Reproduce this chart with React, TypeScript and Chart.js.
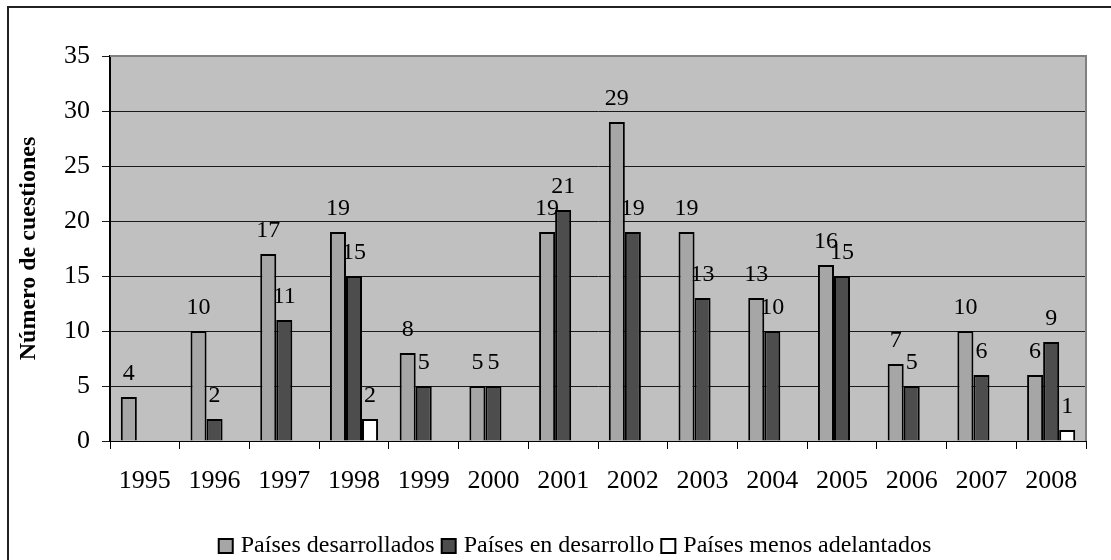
import React, { useEffect, useRef } from "react";
import { Chart, registerables } from "chart.js";

Chart.register(...registerables);

const years = ["1995", "1996", "1997", "1998", "1999", "2000", "2001", "2002", "2003", "2004", "2005", "2006", "2007", "2008"];
const desarrollados = [4, 10, 17, 19, 8, 5, 19, 29, 19, 13, 16, 7, 10, 6];
const enDesarrollo = [null, 2, 11, 15, 5, 5, 21, 19, 13, 10, 15, 5, 6, 9];
const menosAdelantados = [null, null, null, 2, null, null, null, null, null, null, null, null, null, 1];
const seriesLabels = ["Países desarrollados", "Países en desarrollo", "Países menos adelantados"];
const seriesColors = ["#A6A6A6", "#4D4D4D", "#FFFFFF"];
const yTitle = "Número de cuestiones";

const FONT = "'Liberation Serif', 'Times New Roman', serif";

const plotBg = {
  id: "plotBg",
  beforeDraw(chart: any) {
    const { ctx, chartArea: a } = chart;
    ctx.save();
    ctx.fillStyle = "#C0C0C0";
    ctx.fillRect(a.left, a.top, a.right - a.left, a.bottom - a.top);
    ctx.restore();
  },
  beforeDatasetsDraw(chart: any) {
    const { ctx, chartArea: a } = chart;
    ctx.save();
    ctx.strokeStyle = "#808080";
    ctx.lineWidth = 2;
    ctx.beginPath();
    ctx.moveTo(a.left, a.top);
    ctx.lineTo(a.right, a.top);
    ctx.lineTo(a.right, a.bottom);
    ctx.stroke();
    ctx.restore();
  },
};

const valueLabels = {
  id: "valueLabels",
  afterDatasetsDraw(chart: any) {
    const { ctx } = chart;
    ctx.save();
    ctx.font = `24px ${FONT}`;
    ctx.fillStyle = "#000";
    ctx.textAlign = "center";
    ctx.textBaseline = "alphabetic";
    chart.data.datasets.forEach((ds: any, i: number) => {
      const meta = chart.getDatasetMeta(i);
      meta.data.forEach((el: any, j: number) => {
        const v = ds.data[j];
        if (v === null || v === undefined) return;
        ctx.fillText(String(v), el.x, el.y - 17);
      });
    });
    ctx.restore();
  },
};

const customLegend = {
  id: "customLegend",
  afterDraw(chart: any) {
    const { ctx } = chart;
    ctx.save();
    ctx.font = `24px ${FONT}`;
    const box = 14;
    const gapBoxText = 8;
    const gapItems = 7;
    const items = chart.data.datasets.map((ds: any) => ({
      label: ds.label,
      color: ds.backgroundColor,
      w: ctx.measureText(ds.label).width,
    }));
    const total = items.reduce((s: number, it: any) => s + box + gapBoxText + it.w, 0) + gapItems * (items.length - 1);
    let x = 575 - total / 2;
    const cy = 546;
    items.forEach((it: any) => {
      ctx.fillStyle = it.color;
      ctx.fillRect(x, cy - box / 2, box, box);
      ctx.strokeStyle = "#000";
      ctx.lineWidth = 2;
      ctx.strokeRect(x, cy - box / 2, box, box);
      x += box + gapBoxText;
      ctx.fillStyle = "#000";
      ctx.textAlign = "left";
      ctx.textBaseline = "middle";
      ctx.fillText(it.label, x, cy);
      x += it.w + gapItems;
    });
    ctx.restore();
  },
};

export default function App() {
  const ref = useRef<HTMLCanvasElement>(null);
  useEffect(() => {
    if (!ref.current) return;
    const mk = (label: string, data: any[], color: string) => ({
      label,
      data,
      backgroundColor: color,
      borderColor: "#000",
      borderWidth: 2,
      borderSkipped: "bottom",
      barPercentage: 1,
      categoryPercentage: 0.69,
    });
    const chart = new Chart(ref.current, {
      type: "bar",
      data: {
        labels: years,
        datasets: [
          mk(seriesLabels[0], desarrollados, seriesColors[0]),
          mk(seriesLabels[1], enDesarrollo, seriesColors[1]),
          mk(seriesLabels[2], menosAdelantados, seriesColors[2]),
        ],
      },
      options: {
        responsive: false,
        animation: false,
        layout: { padding: { left: 0, top: 56, right: 25, bottom: 0 } },
        plugins: { legend: { display: false }, tooltip: { enabled: false } },
        scales: {
          x: {
            afterFit(scale: any) {
              scale.height = 119;
            },
            grid: {
              offset: true,
              drawOnChartArea: false,
              drawTicks: true,
              tickLength: 8,
              color: "#000",
              lineWidth: 1,
            },
            border: { display: true, color: "#000", width: 1 },
            ticks: {
              font: { family: FONT, size: 26 },
              color: "#000",
              padding: 17,
              maxRotation: 0,
              autoSkip: false,
            },
          },
          y: {
            min: 0,
            max: 35,
            afterFit(scale: any) {
              scale.width = 110;
            },
            grid: {
              color: "#1a1a1a",
              lineWidth: 1,
              tickLength: 8,
              drawTicks: true,
            },
            border: { display: true, color: "#000", width: 2 },
            ticks: {
              stepSize: 5,
              font: { family: FONT, size: 26 },
              color: "#000",
              padding: 12,
            },
            title: {
              display: true,
              text: yTitle,
              font: { family: FONT, size: 24, weight: "bold" },
              color: "#000",
              padding: { top: 14, bottom: 0 },
            },
          },
        },
      },
      plugins: [plotBg, valueLabels, customLegend],
    } as any);
    return () => chart.destroy();
  }, []);
  return (
    <div>
      <canvas
        ref={ref}
        width={1111}
        height={560}
        style={{ position: "absolute", left: 0, top: 0, width: 1111, height: 560, background: "#fff" }}
      />
      <div
        style={{
          position: "absolute",
          left: 7,
          top: 6,
          width: 1104,
          height: 554,
          boxSizing: "border-box",
          borderLeft: "2px solid #222",
          borderTop: "2px solid #222",
          pointerEvents: "none",
        }}
      />
    </div>
  );
}
